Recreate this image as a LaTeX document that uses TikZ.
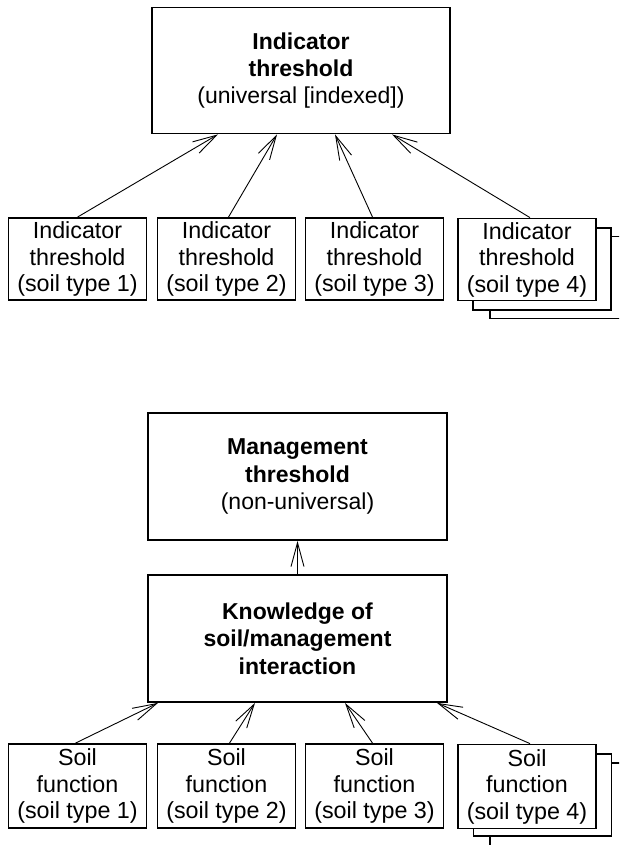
\documentclass[tikz,border=0pt]{standalone}
\usepackage{fontspec}
\setmainfont{Liberation Sans}
\usetikzlibrary{arrows.meta}
\begin{document}
\begin{tikzpicture}[x=1pt,y=-1pt,
  box/.style={draw, line width=1.8pt, fill=white, rectangle, inner sep=0pt, align=center,
    font=\fontsize{23.3}{26.5}\selectfont},
  bigbox/.style={box, minimum width=298pt, minimum height=126pt, font=\fontsize{23}{27.3}\selectfont},
  smallbox/.style={box, minimum width=138pt, minimum height=82pt},
  shadowbox/.style={draw, line width=1.8pt, fill=white, rectangle, inner sep=0pt, minimum width=138pt, minimum height=82pt},
  arr/.style={line width=0.9pt, -{Straight Barb[length=24pt,width=13pt,line width=0.9pt]}}
]
\useasboundingbox (0,0) rectangle (619,845);
\clip (0,0) rectangle (619,845);
\fill[white] (0,0) rectangle (619,845);

% ---------- top part ----------
\node[bigbox] (top) at (301,70.5) {\textbf{Indicator}\\ \textbf{threshold}\\ (universal [indexed])};

\node[shadowbox, minimum width=140pt] (ta3) at (560,277.5) {};
\node[shadowbox] (ta2) at (542,269) {};
\node[smallbox] (t1) at (77.5,259) {Indicator\\threshold\\(soil type 1)};
\node[smallbox] (t2) at (226.5,259) {Indicator\\threshold\\(soil type 2)};
\node[smallbox] (t3) at (374.5,259) {Indicator\\threshold\\(soil type 3)};
\node[smallbox] (t4) at (527,259.5) {Indicator\\threshold\\(soil type 4)};

\draw[arr] (t1.north) -- ([xshift=-83pt]top.south);
\draw[arr] ([xshift=2pt]t2.north) -- ([xshift=-24pt]top.south);
\draw[arr] ([xshift=-2pt]t3.north) -- ([xshift=34pt]top.south);
\draw[arr] ([xshift=3pt]t4.north) -- ([xshift=91pt]top.south);

% ---------- bottom part ----------
\node[bigbox, minimum width=299pt, minimum height=127pt] (man) at (297.5,476.5) {\textbf{Management}\\ \textbf{threshold}\\ (non-universal)};
\node[bigbox, minimum width=299pt, minimum height=127pt] (know) at (297.5,638.5) {\textbf{Knowledge of}\\ \textbf{soil/management}\\ \textbf{interaction}};

\draw[arr] (know.north) -- (man.south);

\node[shadowbox, minimum width=140pt, minimum height=100pt] (ba3) at (560,813) {};
\node[shadowbox] (ba2) at (542.5,795) {};
\node[smallbox, minimum height=84pt] (b1) at (77.5,786) {Soil\\function\\(soil type 1)};
\node[smallbox, minimum height=84pt] (b2) at (226.5,786) {Soil\\function\\(soil type 2)};
\node[smallbox, minimum height=84pt] (b3) at (374.5,786) {Soil\\function\\(soil type 3)};
\node[smallbox, minimum height=84pt] (b4) at (527,786.5) {Soil\\function\\(soil type 4)};

\draw[arr] ([xshift=-2pt]b1.north) -- ([xshift=-139.5pt]know.south);
\draw[arr] ([xshift=3pt]b2.north) -- ([xshift=-42.5pt]know.south);
\draw[arr] ([xshift=-2pt]b3.north) -- ([xshift=47.5pt]know.south);
\draw[arr] ([xshift=3pt]b4.north) -- ([xshift=139.5pt]know.south);
\end{tikzpicture}
\end{document}
